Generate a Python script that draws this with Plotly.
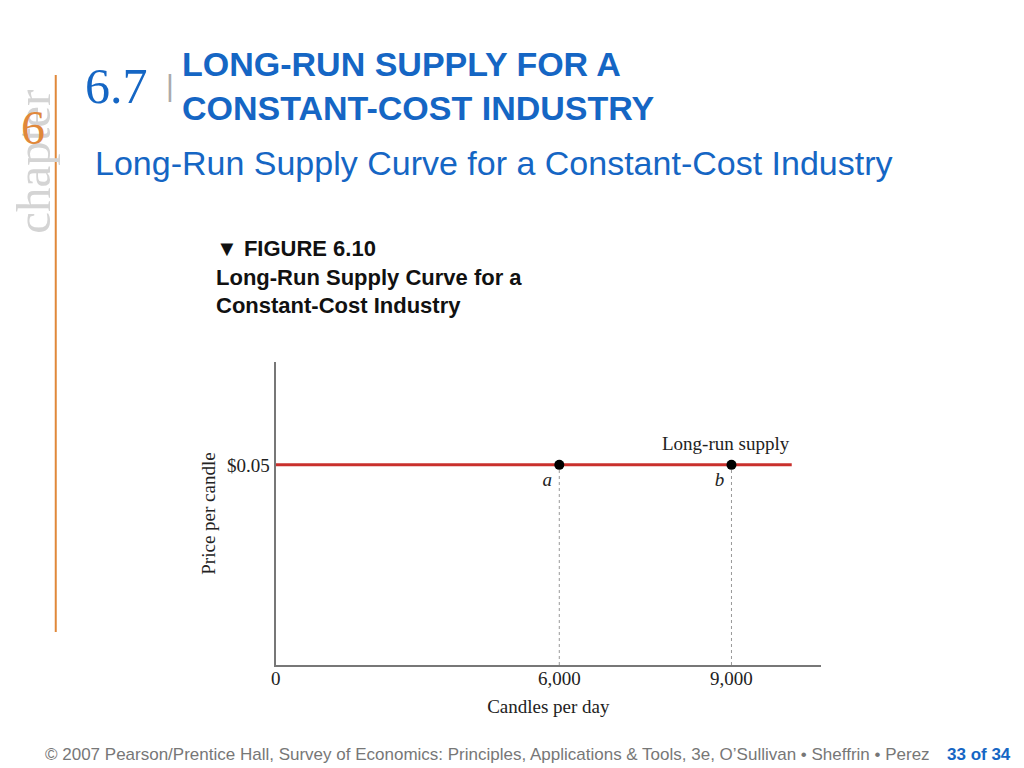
import plotly.graph_objects as go

# ---- data ----
supply_x = [1058, 10050]          # long-run supply segment (schematic, broken axis)
supply_price = [0.05, 0.05]
point_labels = ["<i>a</i>", "<i>b</i>"]
point_qty = [6000, 9000]
point_price = [0.05, 0.05]
x_tickvals = [1058, 6000, 9000]
x_ticktext = ["0", "6,000", "9,000"]
y_tickvals = [0.05]
y_ticktext = ["$0.05"]
x_range = [1058, 10560]
y_range = [0, 0.0757]

W, H = 1024, 768
def px(x): return x / W
def py(y): return 1 - y / H

BLUE = "#1566c4"
SERIF = "Liberation Serif, Times New Roman, serif"
SANS = "Liberation Sans, Arial, sans-serif"

fig = go.Figure()

# dotted guides
for q, p in zip(point_qty, point_price):
    fig.add_trace(go.Scatter(x=[q, q], y=[0, p], mode="lines",
                             line=dict(color="#999999", width=1, dash="dot"),
                             hoverinfo="skip", showlegend=False))
# supply line
fig.add_trace(go.Scatter(x=supply_x, y=supply_price, mode="lines",
                         line=dict(color="#c9302c", width=3),
                         showlegend=False, name="Long-run supply"))
# points
fig.add_trace(go.Scatter(x=point_qty, y=point_price, mode="markers+text",
                         marker=dict(color="black", size=10),
                         text=point_labels, textposition="bottom left",
                         textfont=dict(family=SERIF, size=19, color="#222"),
                         showlegend=False))

fig.update_layout(
    width=W, height=H, margin=dict(l=0, r=0, t=0, b=0),
    paper_bgcolor="white", plot_bgcolor="white",
    xaxis=dict(domain=[px(272), px(820)], range=x_range, showgrid=False, zeroline=False,
               showline=True, linecolor="#777777", linewidth=2,
               tickvals=x_tickvals, ticktext=x_ticktext, ticks="",
               ticklabelstandoff=-5,
               tickfont=dict(family=SERIF, size=19, color="#222"),
               title=dict(text="Candles per day", font=dict(family=SERIF, size=19, color="#222"),
                          standoff=12)),
    yaxis=dict(domain=[py(665), py(362)], range=y_range, showgrid=False, zeroline=False,
               showline=True, linecolor="#777777", linewidth=2,
               tickvals=y_tickvals, ticktext=y_ticktext, ticks="",
               tickfont=dict(family=SERIF, size=19, color="#222"),
               title=dict(text="Price per candle", font=dict(family=SERIF, size=19, color="#222"),
                          standoff=6)),
)

ann = []
def A(text, x, y, size, color, family=SANS, xanchor="left", yanchor="middle", textangle=0, align="left"):
    ann.append(dict(text=text, x=px(x), y=py(y), xref="paper", yref="paper", showarrow=False,
                    font=dict(size=size, color=color, family=family), xanchor=xanchor,
                    yanchor=yanchor, textangle=textangle, align=align))

A("chapter", 28, 162, 49, "#d4d4d4", family=SERIF, xanchor="center", textangle=-90)
A("6", 28, 128, 48, "#e0883a", family=SERIF, xanchor="center")
A("6.7", 78, 86, 50, BLUE, family=SERIF)
A("|", 160, 86, 30, "#aaaaaa", family=SANS)
A("<b>LONG-RUN SUPPLY FOR A<br>CONSTANT-COST INDUSTRY</b>", 176, 86, 34, BLUE)
A("Long-Run Supply Curve for a Constant-Cost Industry", 88, 163, 34, BLUE)
A("<b>▼ FIGURE 6.10<br>Long-Run Supply Curve for a<br>Constant-Cost Industry</b>", 210, 277, 22, "#111111")
A("Long-run supply", 725, 443, 19, "#222", family=SERIF, xanchor="center")
A("© 2007 Pearson/Prentice Hall, Survey of Economics: Principles, Applications &amp; Tools, 3e, O’Sullivan • Sheffrin • Perez",
  932, 754, 17, "#777777", xanchor="right")
A("<b>33 of 34</b>", 945, 754, 17, BLUE)
fig.update_layout(annotations=ann)

fig.add_shape(type="line", xref="paper", yref="paper", x0=px(51), x1=px(51), y0=py(75), y1=py(632),
              line=dict(color="#e0883a", width=2))

fig.write_html("out.html", config={"displayModeBar": False},
               post_script="document.body.style.margin='0';document.body.style.overflow='hidden';")
